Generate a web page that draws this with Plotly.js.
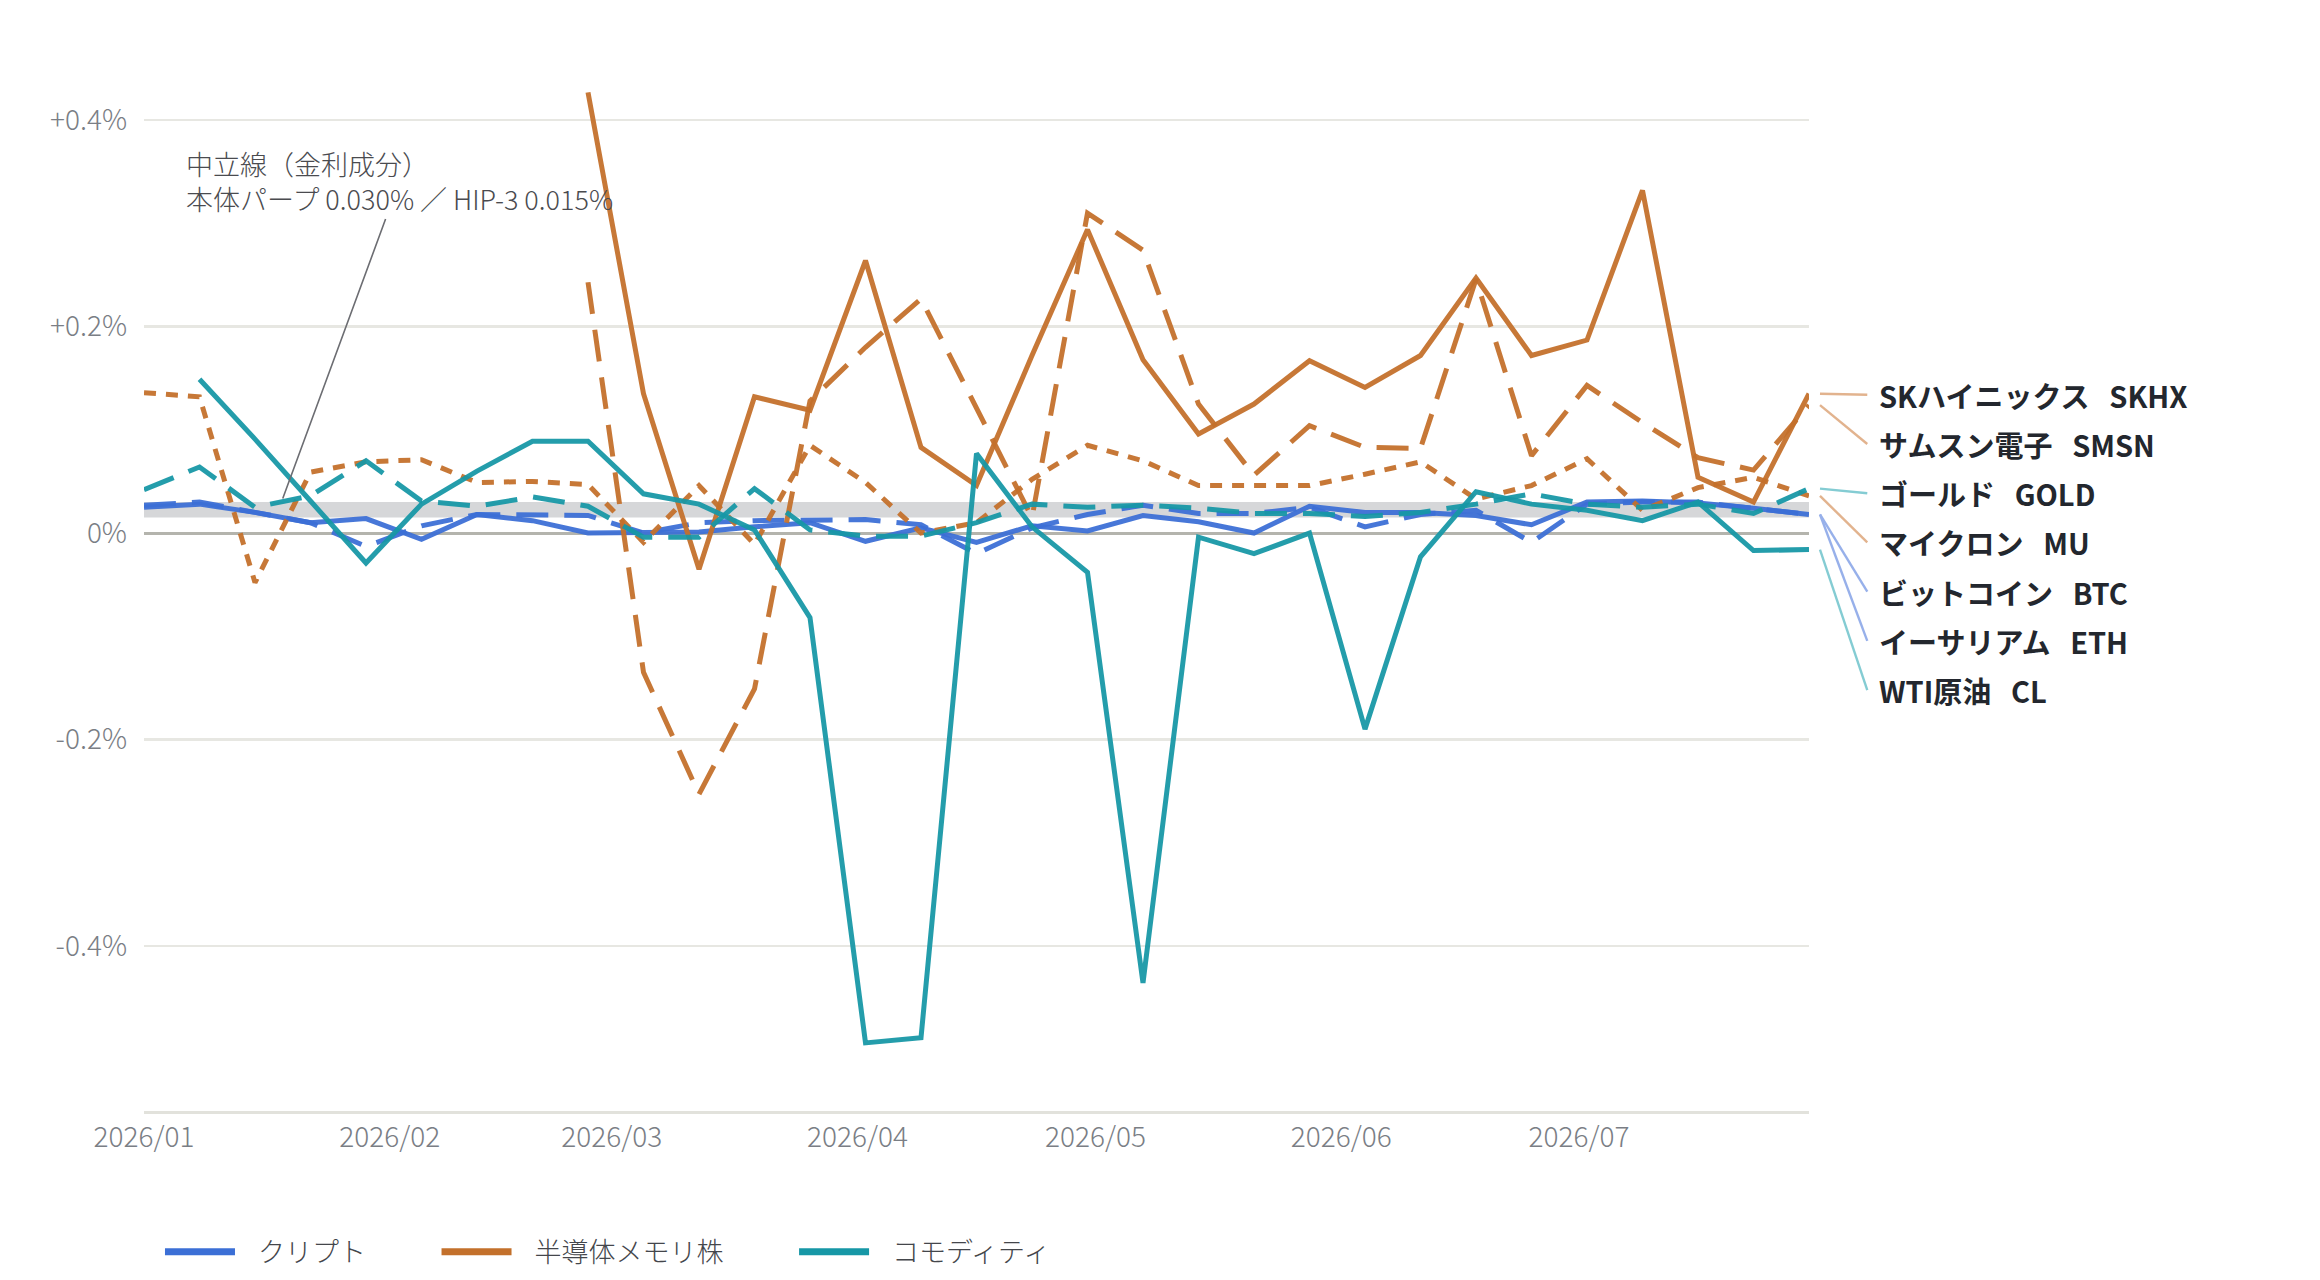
<!DOCTYPE html>
<html>
<head>
<meta charset="utf-8">
<script src="https://cdn.plot.ly/plotly-3.0.1.min.js"></script>
<style>
  html, body { margin: 0; padding: 0; background: #ffffff; }
  #chart { width: 2320px; height: 1280px; }
</style>
</head>
<body>
<div id="chart"></div>
<script>
// weekly observations, %/8h funding
const DATES = ['2026-01-01','2026-01-08','2026-01-15','2026-01-22','2026-01-29','2026-02-05','2026-02-12',
  '2026-02-19','2026-02-26','2026-03-05','2026-03-12','2026-03-19','2026-03-26','2026-04-02','2026-04-09',
  '2026-04-16','2026-04-23','2026-04-30','2026-05-07','2026-05-14','2026-05-21','2026-05-28','2026-06-04',
  '2026-06-11','2026-06-18','2026-06-25','2026-07-02','2026-07-09','2026-07-16','2026-07-23','2026-07-30'];

const BTC  = [0.025, 0.028, 0.020, 0.010, 0.014, -0.006, 0.018, 0.012, 0.000, 0.000, 0.001, 0.006, 0.010, -0.008, 0.005,
  -0.009, 0.007, 0.002, 0.017, 0.011, 0.000, 0.026, 0.020, 0.020, 0.017, 0.008, 0.030, 0.031, 0.029, 0.024, 0.018];
const ETH  = [0.027, 0.030, 0.020, 0.010, -0.013, 0.007, 0.018, 0.018, 0.017, 0.000, 0.010, 0.012, 0.012, 0.013, 0.008,
  -0.020, 0.005, 0.018, 0.027, 0.019, 0.019, 0.025, 0.006, 0.018, 0.022, -0.009, 0.028, 0.030, 0.030, 0.024, 0.018];
const SKHX = [null, null, null, null, null, null, null, null, 0.427, 0.135, -0.035, 0.132, 0.119, 0.264, 0.083,
  0.046, 0.172, 0.294, 0.168, 0.096, 0.125, 0.167, 0.141, 0.172, 0.247, 0.172, 0.187, 0.332, 0.054, 0.030, 0.135];
const SMSN = [null, null, null, null, null, null, null, null, 0.243, -0.135, -0.253, -0.151, 0.128, 0.180, 0.227,
  0.120, 0.015, 0.310, 0.274, 0.125, 0.056, 0.104, 0.083, 0.082, 0.246, 0.075, 0.143, 0.107, 0.073, 0.061, 0.124];
const MU   = [0.136, 0.132, -0.048, 0.059, 0.069, 0.071, 0.049, 0.050, 0.047, -0.009, 0.046, -0.011, 0.085, 0.049, 0.000,
  0.010, 0.052, 0.085, 0.070, 0.046, 0.046, 0.046, 0.057, 0.069, 0.033, 0.046, 0.072, 0.022, 0.044, 0.054, 0.036];
const GOLD = [0.042, 0.064, 0.025, 0.036, 0.070, 0.031, 0.026, 0.035, 0.026, -0.004, -0.004, 0.043, 0.003, -0.003, -0.003,
  0.010, 0.028, 0.025, 0.027, 0.024, 0.019, 0.019, 0.016, 0.020, 0.028, 0.038, 0.028, 0.025, 0.028, 0.019, 0.043];
const CL   = [null, 0.149, 0.091, 0.031, -0.029, 0.028, 0.060, 0.089, 0.089, 0.038, 0.028, 0.003, -0.082, -0.494, -0.489,
  0.077, 0.006, -0.038, -0.436, -0.004, -0.020, 0.000, -0.190, -0.023, 0.040, 0.028, 0.022, 0.012, 0.030, -0.017, -0.016];

const GROUPS = ['クリプト', '半導体メモリ株', 'コモディティ'];
const NEUTRAL_BAND = [0.015, 0.030];

const Y_TICKS = [-0.4, -0.2, 0, 0.2, 0.4];
const Y_TICKTEXT = ['-0.4%', '-0.2%', '0%', '+0.2%', '+0.4%'];
const X_TICKS = ['2026-01-01','2026-02-01','2026-03-01','2026-04-01','2026-05-01','2026-06-01','2026-07-01'];
const X_TICKTEXT = ['2026/01','2026/02','2026/03','2026/04','2026/05','2026/06','2026/07'];

const BLUE = '#3b6fd6', ORANGE = '#c3702b', TEAL = '#1697a6';
const FONT = '"Noto Sans CJK JP", "Noto Sans", sans-serif';
const NB = '\u00a0';

// label order on the right edge
const SERIES = [
  {name: 'SKハイニックス' + NB.repeat(3) + 'SKHX', y: SKHX, color: ORANGE, dash: 'solid', link: '#e2b38e'},
  {name: 'サムスン電子' + NB.repeat(3) + 'SMSN',   y: SMSN, color: ORANGE, dash: '32px,16px', link: '#e2b38e'},
  {name: 'ゴールド' + NB.repeat(3) + 'GOLD',       y: GOLD, color: TEAL,   dash: '32px,16px', link: '#84ccd3'},
  {name: 'マイクロン' + NB.repeat(3) + 'MU',       y: MU,   color: ORANGE, dash: '12px,10px', link: '#e2b38e'},
  {name: 'ビットコイン' + NB.repeat(3) + 'BTC',    y: BTC,  color: BLUE,   dash: 'solid', link: '#97b0ea'},
  {name: 'イーサリアム' + NB.repeat(3) + 'ETH',    y: ETH,  color: BLUE,   dash: '32px,16px', link: '#97b0ea'},
  {name: 'WTI原油' + NB.repeat(3) + 'CL',          y: CL,   color: TEAL,   dash: 'solid', link: '#84ccd3'}
];
const LABEL_TOP = 0.134, LABEL_STEP = 0.0477;

const traces = [];
// legend entries by group
[BLUE, ORANGE, TEAL].forEach(function (c, i) {
  traces.push({x: [null], y: [null], type: 'scatter', mode: 'lines',
    name: NB.repeat(3) + GROUPS[i] + NB.repeat(11),
    line: {color: c, width: 7}, hoverinfo: 'skip'});
});
// draw order: crypto, semis, commodities
[4, 5, 0, 1, 3, 2, 6].forEach(function (i) {
  const s = SERIES[i];
  traces.push({x: DATES, y: s.y, type: 'scatter', mode: 'lines', name: s.name, showlegend: false,
    connectgaps: false, opacity: 0.94, line: {color: s.color, width: 5, dash: s.dash}, hoverinfo: 'skip'});
});

const shapes = [{
  type: 'rect', xref: 'paper', yref: 'y', x0: 0, x1: 1, y0: NEUTRAL_BAND[0], y1: NEUTRAL_BAND[1],
  fillcolor: '#d6d7d9', line: {width: 0}, layer: 'below'
}];
const annotations = [];

SERIES.forEach(function (s, i) {
  const last = s.y[s.y.length - 1];
  const ly = LABEL_TOP - i * LABEL_STEP;
  shapes.push({type: 'line', xref: 'paper', yref: 'y', x0: 1.0066, x1: 1.035, y0: last, y1: ly,
    line: {color: s.link, width: 2.4}});
  annotations.push({xref: 'paper', yref: 'y', x: 1.041, y: ly, xanchor: 'left', yanchor: 'middle',
    text: s.name, showarrow: false, font: {family: FONT, size: 29, color: '#23272e', weight: 700}});
});

annotations.push({
  x: '2026-01-18 12:00', y: 0.0334, xref: 'x', yref: 'y',
  text: '中立線（金利成分）<br>本体パープ 0.030% ／ HIP-3 0.015%',
  align: 'left', showarrow: true, arrowhead: 0, arrowwidth: 1.6, arrowcolor: '#6c6d72',
  ax: 117, ay: -318, standoff: 0,
  font: {family: FONT, size: 27, color: '#4a4b4f', weight: 300}
});

const layout = {
  width: 2320, height: 1280,
  margin: {l: 144, r: 511, t: 17, b: 169, autoexpand: false},
  paper_bgcolor: '#ffffff', plot_bgcolor: '#ffffff',
  font: {family: FONT, size: 28, color: '#7a7e85'},
  showlegend: true,
  legend: {orientation: 'h', x: 0.0096, xanchor: 'left', y: -0.129, yanchor: 'middle',
    font: {family: FONT, size: 27, color: '#44464b', weight: 300}, itemwidth: 70,
    bgcolor: 'rgba(0,0,0,0)'},
  xaxis: {
    type: 'date', range: ['2026-01-01', '2026-07-30'],
    tickvals: X_TICKS, ticktext: X_TICKTEXT, ticks: '', showgrid: false,
    showline: true, linecolor: '#e2e2dc', linewidth: 2.5, zeroline: false,
    tickfont: {family: FONT, size: 28, color: '#7a7e85', weight: 300}, ticklabelstandoff: 0, fixedrange: true
  },
  yaxis: {
    range: [-0.56, 0.5], tickvals: Y_TICKS, ticktext: Y_TICKTEXT, ticks: '',
    showgrid: true, gridcolor: '#e7e7e2', gridwidth: 2.5,
    zeroline: true, zerolinecolor: '#b4b4ad', zerolinewidth: 3, showline: false,
    tickfont: {family: FONT, size: 28, color: '#7a7e85', weight: 300}, ticklabelstandoff: 16, fixedrange: true
  },
  shapes: shapes,
  annotations: annotations
};

Plotly.newPlot('chart', traces, layout, {staticPlot: true, displayModeBar: false});
</script>
</body>
</html>
